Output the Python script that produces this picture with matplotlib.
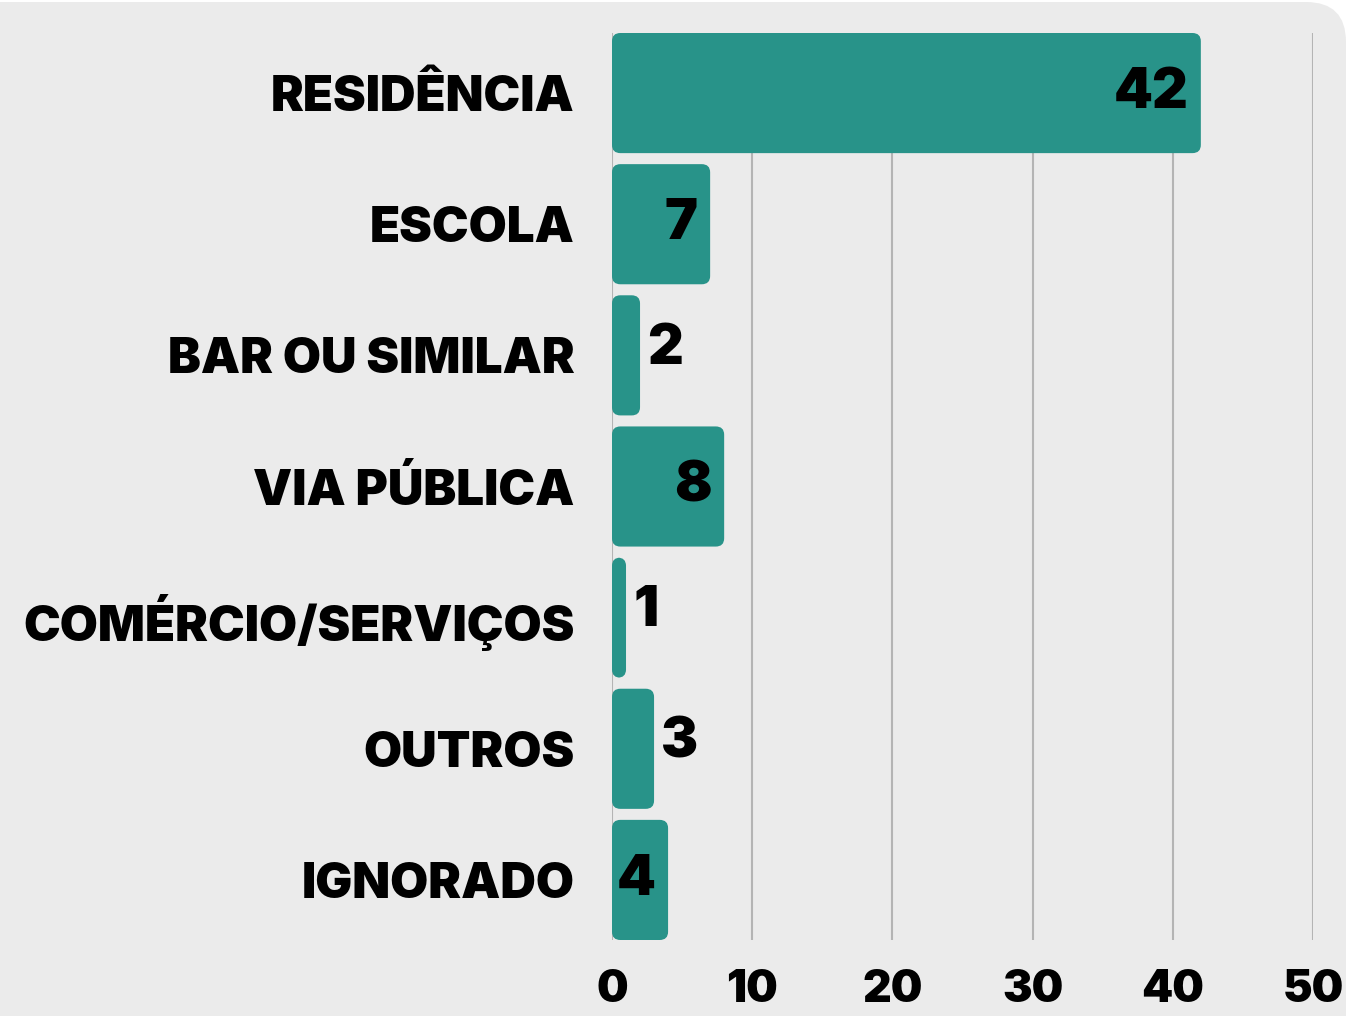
import matplotlib
matplotlib.use('Agg')
import matplotlib.pyplot as plt
from matplotlib.patches import FancyBboxPatch

categories = ['RESIDÊNCIA', 'ESCOLA', 'BAR OU SIMILAR', 'VIA PÚBLICA',
              'COMÉRCIO/SERVIÇOS', 'OUTROS', 'IGNORADO']
values = [42, 7, 2, 8, 1, 3, 4]
xticks = [0, 10, 20, 30, 40, 50]

TEAL = '#289389'
BG = '#ebebeb'

plt.rcParams['font.family'] = ['Inter', 'DejaVu Sans']

fig = plt.figure(figsize=(13.46, 10.16), dpi=100)
fig.patch.set_facecolor('white')

# rounded grey panel behind everything (pixel coordinates)
bg = fig.add_axes([0, 0, 1, 1], zorder=-1)
bg.set_xlim(0, 1346)
bg.set_ylim(0, 1016)
bg.axis('off')
bg.add_patch(FancyBboxPatch((-60, -60), 1406, 1074,
                            boxstyle='round,pad=0,rounding_size=40',
                            facecolor=BG, edgecolor='none'))

ax = fig.add_axes([612 / 1346, 76 / 1016, 701 / 1346, 907 / 1016])
ax.set_facecolor('none')

h = 0.916
bars = ax.barh(range(len(values)), values, height=h, color=TEAL, alpha=0)
for b in bars:
    p = FancyBboxPatch((b.get_x(), b.get_y()), b.get_width(), b.get_height(),
                       boxstyle='round,pad=0,rounding_size=0.6',
                       mutation_aspect=0.105, facecolor=TEAL,
                       edgecolor='none', zorder=3)
    ax.add_patch(p)

ax.set_xlim(0, 50)
ax.set_ylim(len(values) - 1 + h / 2, -h / 2)
ax.set_xticks(xticks)
ax.set_yticks(range(len(values)))
ax.set_yticklabels(categories)
ax.tick_params(axis='y', length=0, pad=27, labelsize=35.5)
ax.tick_params(axis='x', length=0, pad=21, labelsize=32)
for lab in ax.get_yticklabels() + ax.get_xticklabels():
    lab.set_fontweight(900)
    lab.set_color('black')

ax.grid(axis='x', color='#b4b4b4', linewidth=1.5, zorder=1)
ax.set_axisbelow(True)
for s in ax.spines.values():
    s.set_visible(False)

for i, v in enumerate(values):
    if v >= 4:
        ax.text(v - 0.9, i, str(v), ha='right', va='center', fontsize=40,
                fontweight=900, color='black', zorder=4)
    else:
        ax.text(v + 0.5, i - 0.05, str(v), ha='left', va='center', fontsize=40,
                fontweight=900, color='black', zorder=4)

fig.savefig('out.png', dpi=100, facecolor=fig.get_facecolor())
